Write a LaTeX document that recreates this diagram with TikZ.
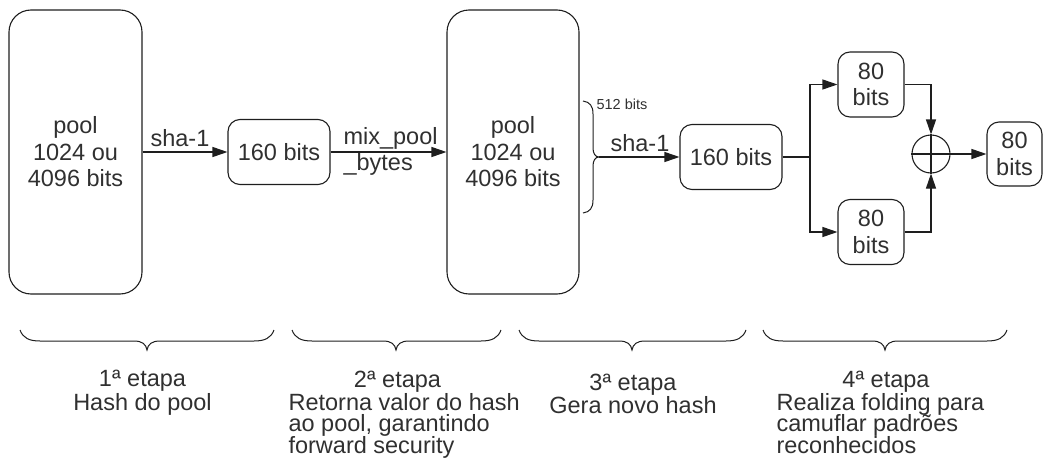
\documentclass[tikz,border=0pt]{standalone}
\usepackage{fontspec}
\setmainfont{Liberation Sans}
\usetikzlibrary{arrows.meta}
\definecolor{ink}{HTML}{1E1E1E}
\definecolor{txt}{HTML}{303030}
% under-brace spanning #1..#2 with its tip at #3
\newcommand\stagebrace[3]{%
  \draw[brc] (#1,330) .. controls (#1+3,338) and (#1+9,341) .. (#1+20,341)
    -- (#3-13,341) .. controls (#3-5,341) and (#3-1,344) .. (#3,350)
    .. controls (#3+1,344) and (#3+5,341) .. (#3+13,341)
    -- (#2-20,341) .. controls (#2-9,341) and (#2-3,338) .. (#2,330);}
\begin{document}
\begin{tikzpicture}[x=1pt,y=-1pt,
  line width=1.1pt,
  every node/.style={text=txt, inner sep=0pt, font=\fontsize{23.5}{26.5}\selectfont},
  box/.style={draw=ink, rounded corners=12pt, align=center},
  poolbox/.style={box, rounded corners=22pt, minimum width=133pt, minimum height=284pt},
  hashbox/.style={box, minimum width=102pt, minimum height=65pt},
  halfbox/.style={box, minimum width=66pt, minimum height=65pt},
  arr/.style={draw=ink, -{Triangle[length=15pt,width=10pt]}},
  brc/.style={draw=ink, line width=1pt},
  head/.style={anchor=base, font=\fontsize{23.5}{23.5}\selectfont},
  body/.style={anchor=base west, font=\fontsize{23.5}{23.5}\selectfont}]
\useasboundingbox (0,0) rectangle (1044,471);

% main blocks
\node[poolbox] (p1) at (75.5,152) {pool\\1024 ou\\4096 bits};
\node[hashbox] (h1) at (279,152) {160 bits};
\node[poolbox, minimum width=132pt] (p2) at (513,152) {pool\\1024 ou\\4096 bits};
\node[hashbox] (h2) at (731,157) {160 bits};
\node[halfbox] (t80) at (871,84.5) {80\\bits};
\node[halfbox] (b80) at (871,232) {80\\bits};
\node[draw=ink, circle, minimum size=38pt] (xr) at (931,154) {};
\node[box, minimum width=55pt, minimum height=64pt] (o80) at (1014.5,154) {80\\bits};

% stage 1 and 2 connectors
\draw[arr] (p1.east) -- (h1.west);
\node (l1) at (180,138) {sha-1};
\draw[arr] (h1.east) -- (p2.west);
\node[anchor=base west] (l2) at (343,144) {mix\_pool};
\node[anchor=base west] (l3) at (343,170) {\_bytes};

% 512-bit slice of the pool
\coordinate (bt) at (599,157);
\draw[brc] (583,101) .. controls (590,102) and (593,106) .. (593,114)
  -- (593,148) .. controls (593,153) and (595,157) .. (bt)
  .. controls (595,157) and (593,161) .. (593,166)
  -- (593,200) .. controls (593,208) and (590,212) .. (583,213);
\node[font=\fontsize{14.5}{16}\selectfont] (l4) at (622,104) {512 bits};
\draw[arr] (bt) -- (h2.west);
\node (l5) at (640,143) {sha-1};

% folding
\coordinate (sp) at (810,157);
\draw[ink] (h2.east) -- (sp);
\draw[arr] (sp) |- (t80.west);
\draw[arr] (sp) |- (b80.west);
\draw[arr] (t80.east) -| (xr.north);
\draw[arr] (b80.east) -| (xr.south);
\draw[ink] (xr.north) -- (xr.south) (xr.west) -- (xr.east);
\draw[arr] (xr.east) -- (o80.west);

% stage braces
\stagebrace{20}{274}{147}
\stagebrace{292}{501}{396}
\stagebrace{519}{746}{632}
\stagebrace{763}{1007}{885}

% stage captions
\node[head] (s1a) at (142.5,386) {1ª etapa};
\node[head] (s1b) at (142.5,410) {Hash do pool};

\node[head] (s2a) at (397.5,387) {2ª etapa};
\node[body] (s2b) at (288,410) {Retorna valor do hash};
\node[body] (s2c) at (288,431.5) {ao pool, garantindo};
\node[body] (s2d) at (288,453) {forward security};

\node[head] (s3a) at (633,390) {3ª etapa};
\node[head] (s3b) at (633,413) {Gera novo hash};

\node[head] (s4a) at (886,387) {4ª etapa};
\node[body] (s4b) at (776,410) {Realiza folding para};
\node[body] (s4c) at (776,431.5) {camuflar padrões};
\node[body] (s4d) at (776,453) {reconhecidos};
\end{tikzpicture}
\end{document}
